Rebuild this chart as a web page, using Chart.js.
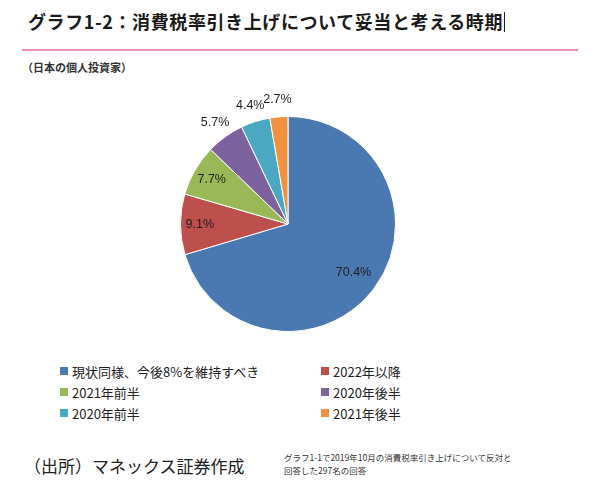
<!DOCTYPE html>
<html lang="ja">
<head>
<meta charset="UTF-8">
<title>消費税率引き上げについて妥当と考える時期</title>
<script src="https://cdn.jsdelivr.net/npm/chart.js@4.4.0/dist/chart.umd.min.js"></script>
<style>
  body { margin: 0; width: 600px; height: 495px; background: #fff; position: relative; overflow: hidden;
         font-family: "Noto Sans CJK JP", "Noto Sans", sans-serif; color: #1a1a1a; }
  .title { position: absolute; left: 28px; top: 8px; font-size: 18px; font-weight: bold; letter-spacing: 0.6px; }
  .title .cursor { display: inline-block; width: 1px; height: 20px; background: #222; vertical-align: -3px; margin-left: 1px; }
  .rule { position: absolute; left: 22px; top: 49px; width: 556px; height: 2px; background: #ec8fbd; }
  .sub { position: absolute; left: 22px; top: 59px; font-size: 11px; font-weight: bold; color: #333; }
  #wrap { position: absolute; left: 128px; top: 94px; width: 320px; height: 260px; }
  #legend { position: absolute; left: 60px; top: 362px; width: 520px; display: grid;
            grid-template-columns: 261px 200px; row-gap: 3px; font-size: 13px; color: #222; }
  #legend div { display: flex; align-items: center; height: 18px; }
  #legend span.box { width: 8px; height: 8px; margin-right: 4px; display: inline-block; }
  .src { position: absolute; left: 24px; top: 453px; font-size: 17px; color: #222; }
  .note { position: absolute; left: 284px; top: 451px; font-size: 8.5px; line-height: 13px; color: #333; }
</style>
</head>
<body>
<div class="title">グラフ1-2：消費税率引き上げについて妥当と考える時期<span class="cursor"></span></div>
<div class="rule"></div>
<div class="sub">（日本の個人投資家）</div>
<div id="wrap"><canvas id="pie"></canvas></div>
<div id="legend"></div>
<div class="src">（出所）マネックス証券作成</div>
<div class="note">グラフ1-1で2019年10月の消費税率引き上げについて反対と<br>回答した297名の回答</div>
<script>
const categories = ["現状同様、今後8%を維持すべき", "2022年以降", "2021年前半", "2020年後半", "2020年前半", "2021年後半"];
const values = [70.4, 9.1, 7.7, 5.7, 4.4, 2.7];
const colors = ["#4a78b0", "#bd4f4c", "#98b955", "#7d62a0", "#4aa8c2", "#f0913f"];

// legend in two columns, same order as the slices
const legend = document.getElementById('legend');
categories.forEach((c, i) => {
  legend.insertAdjacentHTML('beforeend', `<div><span class="box" style="background:${colors[i]}"></span>${c}</div>`);
});

// percent labels: inside for big slices, just outside for small ones
const pctLabels = {
  id: 'pctLabels',
  afterDatasetsDraw(chart) {
    const ctx = chart.ctx;
    const meta = chart.getDatasetMeta(0);
    ctx.save();
    ctx.font = '12.5px "Liberation Sans", "DejaVu Sans", sans-serif';
    ctx.fillStyle = '#1e1e1e';
    ctx.textAlign = 'center';
    ctx.textBaseline = 'middle';
    meta.data.forEach((arc, i) => {
      const mid = (arc.startAngle + arc.endAngle) / 2;
      const k = values[i] > 7 ? (values[i] > 50 ? 0.76 : 0.82) : 1.16;
      const r = arc.outerRadius * k;
      ctx.fillText(values[i].toFixed(1) + '%', arc.x + Math.cos(mid) * r, arc.y + Math.sin(mid) * r);
    });
    ctx.restore();
  }
};

new Chart(document.getElementById('pie'), {
  type: 'pie',
  data: { labels: categories, datasets: [{ data: values, backgroundColor: colors, borderColor: '#fff', borderWidth: 1 }] },
  options: {
    responsive: true, maintainAspectRatio: false, animation: false,
    layout: { padding: { top: 22, bottom: 22 } },
    plugins: { legend: { display: false }, tooltip: { enabled: false } }
  },
  plugins: [pctLabels]
});
</script>
</body>
</html>
